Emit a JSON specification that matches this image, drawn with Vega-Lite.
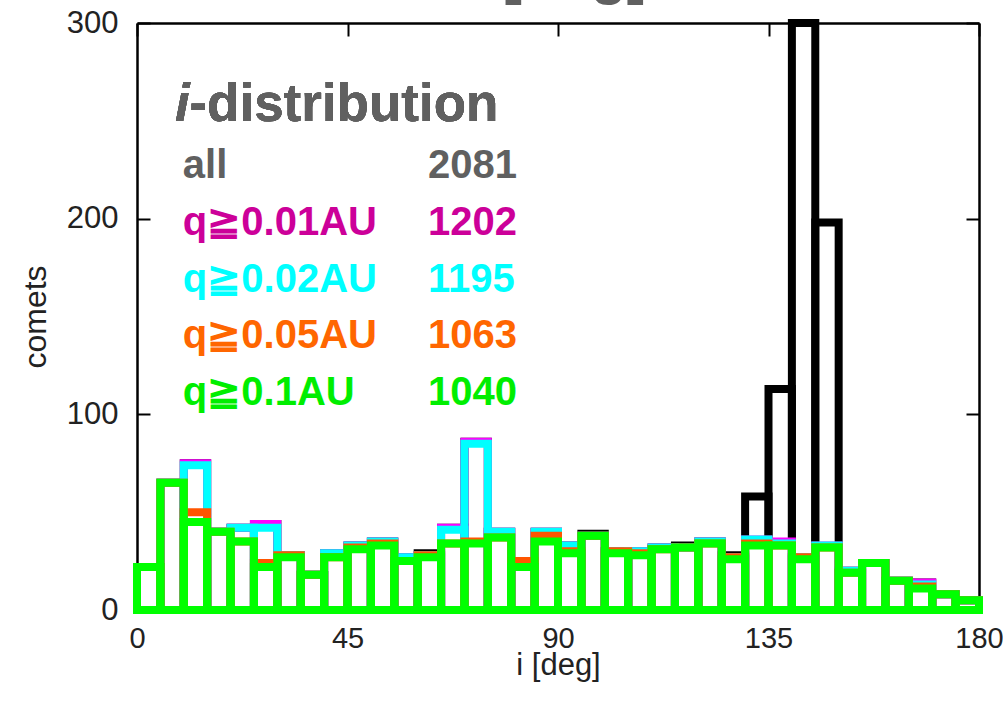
{
  "$schema": "https://vega.github.io/schema/vega-lite/v6.json",
  "autosize": "none",
  "width": 842,
  "height": 587,
  "padding": {"left": 137, "top": 23, "right": 24, "bottom": 96},
  "background": "#ffffff",
  "config": {"view": {"stroke": null}, "axis": {"grid": false, "labelFont": "Liberation Sans", "titleFont": "Liberation Sans"}},
  "title": {"text": "i [deg]", "fontSize": 59, "fontWeight": "bold", "color": "#606060", "font": "Liberation Sans", "anchor": "middle", "offset": 6, "dy": 4},
  "datasets": {
    "hist": [
      {"lo": 0, "hi": 5, "all": 22, "q01": 22, "q02": 22, "q05": 22, "q10": 22},
      {"lo": 5, "hi": 10, "all": 65, "q01": 65, "q02": 65, "q05": 65, "q10": 65},
      {"lo": 10, "hi": 15, "all": 75, "q01": 75, "q02": 74, "q05": 50, "q10": 45},
      {"lo": 15, "hi": 20, "all": 40, "q01": 40, "q02": 40, "q05": 40, "q10": 40},
      {"lo": 20, "hi": 25, "all": 42, "q01": 42, "q02": 42, "q05": 35, "q10": 35},
      {"lo": 25, "hi": 30, "all": 44, "q01": 44, "q02": 42, "q05": 24, "q10": 22},
      {"lo": 30, "hi": 35, "all": 28, "q01": 28, "q02": 28, "q05": 28, "q10": 27},
      {"lo": 35, "hi": 40, "all": 18, "q01": 18, "q02": 18, "q05": 18, "q10": 18},
      {"lo": 40, "hi": 45, "all": 29, "q01": 29, "q02": 29, "q05": 27, "q10": 27},
      {"lo": 45, "hi": 50, "all": 33, "q01": 33, "q02": 33, "q05": 32, "q10": 31},
      {"lo": 50, "hi": 55, "all": 35, "q01": 35, "q02": 35, "q05": 34, "q10": 33},
      {"lo": 55, "hi": 60, "all": 27, "q01": 27, "q02": 27, "q05": 25, "q10": 25},
      {"lo": 60, "hi": 65, "all": 29, "q01": 28, "q02": 28, "q05": 28, "q10": 27},
      {"lo": 65, "hi": 70, "all": 42, "q01": 42, "q02": 41, "q05": 34, "q10": 34},
      {"lo": 70, "hi": 75, "all": 86, "q01": 86, "q02": 85, "q05": 35, "q10": 34},
      {"lo": 75, "hi": 80, "all": 40, "q01": 40, "q02": 40, "q05": 37, "q10": 37},
      {"lo": 80, "hi": 85, "all": 25, "q01": 25, "q02": 25, "q05": 25, "q10": 22},
      {"lo": 85, "hi": 90, "all": 40, "q01": 40, "q02": 40, "q05": 38, "q10": 35},
      {"lo": 90, "hi": 95, "all": 33, "q01": 33, "q02": 33, "q05": 30, "q10": 29},
      {"lo": 95, "hi": 100, "all": 39, "q01": 38, "q02": 38, "q05": 38, "q10": 38},
      {"lo": 100, "hi": 105, "all": 30, "q01": 30, "q02": 30, "q05": 30, "q10": 29},
      {"lo": 105, "hi": 110, "all": 30, "q01": 30, "q02": 30, "q05": 29, "q10": 28},
      {"lo": 110, "hi": 115, "all": 32, "q01": 32, "q02": 32, "q05": 31, "q10": 31},
      {"lo": 115, "hi": 120, "all": 33, "q01": 32, "q02": 32, "q05": 32, "q10": 32},
      {"lo": 120, "hi": 125, "all": 35, "q01": 35, "q02": 35, "q05": 34, "q10": 34},
      {"lo": 125, "hi": 130, "all": 28, "q01": 27, "q02": 27, "q05": 27, "q10": 26},
      {"lo": 130, "hi": 135, "all": 58, "q01": 36, "q02": 36, "q05": 34, "q10": 33},
      {"lo": 135, "hi": 140, "all": 113, "q01": 35, "q02": 34, "q05": 33, "q10": 33},
      {"lo": 140, "hi": 145, "all": 300, "q01": 27, "q02": 27, "q05": 27, "q10": 26},
      {"lo": 145, "hi": 150, "all": 198, "q01": 33, "q02": 33, "q05": 32, "q10": 32},
      {"lo": 150, "hi": 155, "all": 20, "q01": 20, "q02": 20, "q05": 19, "q10": 19},
      {"lo": 155, "hi": 160, "all": 24, "q01": 24, "q02": 24, "q05": 24, "q10": 24},
      {"lo": 160, "hi": 165, "all": 15, "q01": 15, "q02": 15, "q05": 15, "q10": 15},
      {"lo": 165, "hi": 170, "all": 14, "q01": 14, "q02": 13, "q05": 12, "q10": 11},
      {"lo": 170, "hi": 175, "all": 8, "q01": 8, "q02": 8, "q05": 8, "q10": 8},
      {"lo": 175, "hi": 180, "all": 5, "q01": 5, "q02": 5, "q05": 5, "q10": 5}
    ],
    "legend": [
      {"key": "all", "label": "all", "total": "2081"},
      {"key": "q01", "label": "q≧0.01AU", "total": "1202"},
      {"key": "q02", "label": "q≧0.02AU", "total": "1195"},
      {"key": "q05", "label": "q≧0.05AU", "total": "1063"},
      {"key": "q10", "label": "q≧0.1AU", "total": "1040"}
    ]
  },
  "resolve": {"scale": {"y": "independent"}, "axis": {"x": "independent", "y": "independent"}},
  "layer": [
    {
      "data": {"name": "hist"},
      "mark": {"type": "rect", "filled": false, "stroke": "#000000", "strokeWidth": 8, "strokeJoin": "miter"},
      "encoding": {
        "x": {"field": "lo", "type": "quantitative", "scale": {"domain": [0, 180], "nice": false, "zero": false},
              "axis": {"orient": "bottom", "values": [0, 45, 90, 135, 180], "tickSize": -13, "tickWidth": 2, "tickColor": "#000000", "domainColor": "#000000", "domainWidth": 2.5, "labelFontSize": 29, "labelColor": "#222222", "labelFlush": false, "labelPadding": 27, "title": "i [deg]", "titleFontSize": 31, "titleFontWeight": "normal", "titleColor": "#222222", "titlePadding": -3}},
        "x2": {"field": "hi"},
        "y": {"field": "all", "type": "quantitative", "scale": {"domain": [0, 300], "nice": false},
              "axis": {"orient": "left", "values": [0, 100, 200, 300], "tickSize": -13, "tickWidth": 2, "tickColor": "#000000", "domainColor": "#000000", "domainWidth": 2.5, "labelFontSize": 31, "labelColor": "#222222", "labelPadding": 32, "title": "comets", "titleFontSize": 32, "titleFontWeight": "normal", "titleColor": "#222222", "titlePadding": 14}},
        "y2": {"datum": 0}
      }
    },
    {
      "data": {"name": "hist"},
      "mark": {"type": "rect", "filled": false, "stroke": "#ff00ff", "strokeWidth": 8, "strokeJoin": "miter"},
      "encoding": {
        "x": {"field": "lo", "type": "quantitative", "scale": {"domain": [0, 180], "nice": false, "zero": false},
              "axis": {"orient": "top", "values": [0, 45, 90, 135, 180], "tickSize": -13, "tickWidth": 2, "tickColor": "#000000", "domainColor": "#000000", "domainWidth": 2.5, "labels": false, "title": null}},
        "x2": {"field": "hi"},
        "y": {"field": "q01", "type": "quantitative", "scale": {"domain": [0, 300], "nice": false},
              "axis": {"orient": "right", "values": [0, 100, 200, 300], "tickSize": -13, "tickWidth": 2, "tickColor": "#000000", "domainColor": "#000000", "domainWidth": 2.5, "labels": false, "title": null}},
        "y2": {"datum": 0}
      }
    },
    {
      "data": {"name": "hist"},
      "mark": {"type": "rect", "filled": false, "stroke": "#00ffff", "strokeWidth": 8, "strokeJoin": "miter"},
      "encoding": {
        "x": {"field": "lo", "type": "quantitative", "axis": null},
        "x2": {"field": "hi"},
        "y": {"field": "q02", "type": "quantitative", "scale": {"domain": [0, 300], "nice": false}, "axis": null},
        "y2": {"datum": 0}
      }
    },
    {
      "data": {"name": "hist"},
      "mark": {"type": "rect", "filled": false, "stroke": "#ff5500", "strokeWidth": 8, "strokeJoin": "miter"},
      "encoding": {
        "x": {"field": "lo", "type": "quantitative", "axis": null},
        "x2": {"field": "hi"},
        "y": {"field": "q05", "type": "quantitative", "scale": {"domain": [0, 300], "nice": false}, "axis": null},
        "y2": {"datum": 0}
      }
    },
    {
      "data": {"name": "hist"},
      "mark": {"type": "rect", "filled": false, "stroke": "#00ff00", "strokeWidth": 8, "strokeJoin": "miter"},
      "encoding": {
        "x": {"field": "lo", "type": "quantitative", "axis": null},
        "x2": {"field": "hi"},
        "y": {"field": "q10", "type": "quantitative", "scale": {"domain": [0, 300], "nice": false}, "axis": null},
        "y2": {"datum": 0}
      }
    },
    {
      "data": {"name": "legend"},
      "mark": {"type": "text", "align": "left", "baseline": "alphabetic", "font": "Liberation Sans", "fontSize": 53, "fontWeight": "bold", "fontStyle": "italic", "fill": "#606060", "text": "i"},
      "encoding": {
        "x": {"datum": 8.1, "type": "quantitative", "axis": null},
        "y": {"datum": "head", "type": "ordinal", "axis": null, "scale": {"type": "point", "domain": ["p0", "head", "all", "q01", "q02", "q05", "q10", "p1", "p2", "p3"], "padding": 0.662, "align": 0.546}}
      }
    },
    {
      "data": {"name": "legend"},
      "mark": {"type": "text", "align": "left", "baseline": "alphabetic", "font": "Liberation Sans", "fontSize": 53, "fontWeight": "bold", "fill": "#606060", "text": "-distribution"},
      "encoding": {
        "x": {"datum": 11.2, "type": "quantitative", "axis": null},
        "y": {"datum": "head", "type": "ordinal", "axis": null, "scale": {"type": "point", "domain": ["p0", "head", "all", "q01", "q02", "q05", "q10", "p1", "p2", "p3"], "padding": 0.662, "align": 0.546}}
      }
    },
    {
      "data": {"name": "legend"},
      "mark": {"type": "text", "align": "left", "baseline": "alphabetic", "font": "Liberation Sans", "fontSize": 40, "fontWeight": "bold"},
      "encoding": {
        "x": {"datum": 9.8, "type": "quantitative", "axis": null},
        "y": {"field": "key", "type": "ordinal", "axis": null, "scale": {"type": "point", "domain": ["p0", "head", "all", "q01", "q02", "q05", "q10", "p1", "p2", "p3"], "padding": 0.662, "align": 0.546}},
        "text": {"field": "label"},
        "color": {"field": "key", "type": "nominal", "legend": null, "scale": {"domain": ["all", "q01", "q02", "q05", "q10"], "range": ["#606060", "#cc0099", "#00ffff", "#ff6600", "#00ee00"]}}
      }
    },
    {
      "data": {"name": "legend"},
      "mark": {"type": "text", "align": "left", "baseline": "alphabetic", "font": "Liberation Sans", "fontSize": 40, "fontWeight": "bold"},
      "encoding": {
        "x": {"datum": 62.2, "type": "quantitative", "axis": null},
        "y": {"field": "key", "type": "ordinal", "axis": null, "scale": {"type": "point", "domain": ["p0", "head", "all", "q01", "q02", "q05", "q10", "p1", "p2", "p3"], "padding": 0.662, "align": 0.546}},
        "text": {"field": "total"},
        "color": {"field": "key", "type": "nominal", "legend": null, "scale": {"domain": ["all", "q01", "q02", "q05", "q10"], "range": ["#606060", "#cc0099", "#00ffff", "#ff6600", "#00ee00"]}}
      }
    }
  ]
}
